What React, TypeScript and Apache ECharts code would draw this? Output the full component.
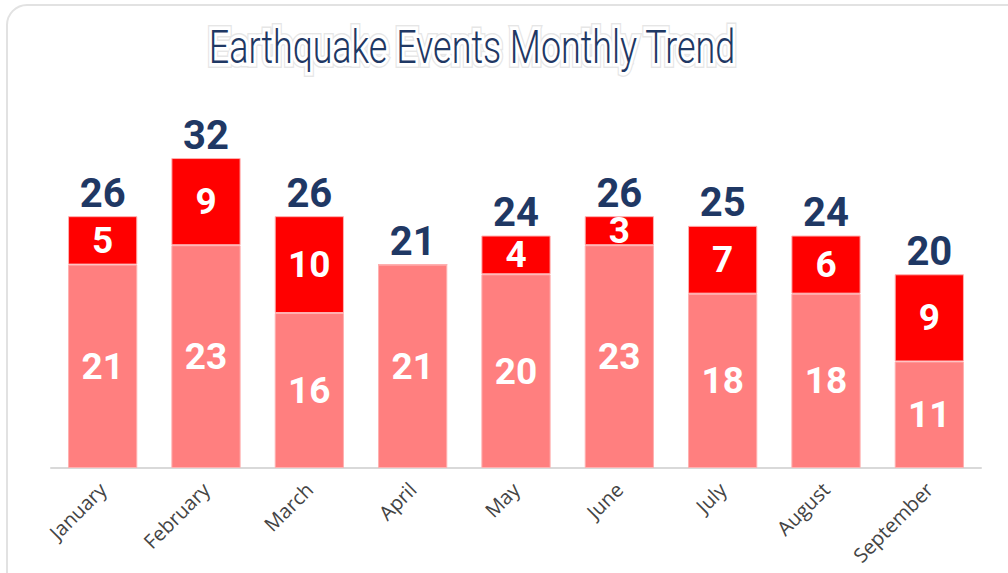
import React, { useEffect, useRef } from "react";
import * as echarts from "echarts";

const months = ["January", "February", "March", "April", "May", "June", "July", "August", "September"];
const baseEvents = [21, 23, 16, 21, 20, 23, 18, 18, 11];
const extraEvents = [5, 9, 10, 0, 4, 3, 7, 6, 9];
const totals = [26, 32, 26, 21, 24, 26, 25, 24, 20];
const titleText = "Earthquake Events Monthly Trend";

export default function App() {
  const ref = useRef<HTMLDivElement>(null);
  useEffect(() => {
    if (!ref.current) return;
    const chart = echarts.init(ref.current, undefined, { renderer: "svg" });
    const inside = {
      show: true,
      position: "inside" as const,
      color: "#ffffff",
      fontFamily: "Roboto",
      fontWeight: "bold" as const,
      fontSize: 37,
    };
    const titleBase = {
      text: titleText,
      font: "300 46px Roboto",
      textAlign: "center",
      textVerticalAlign: "middle",
    };
    chart.setOption({
      animation: false,
      backgroundColor: "#ffffff",
      graphic: [
        {
          type: "rect",
          z: -10,
          shape: { x: 7, y: 5, width: 1020, height: 620, r: 20 },
          style: { fill: "#ffffff", stroke: "#e2e2e2", lineWidth: 2 },
        },
        {
          type: "text",
          x: 472,
          y: 47,
          scaleX: 0.78,
          z: 9,
          style: { ...titleBase, fill: "#e6e6e6", stroke: "#e6e6e6", lineWidth: 10 },
        },
        {
          type: "text",
          x: 472,
          y: 47,
          scaleX: 0.78,
          z: 10,
          style: { ...titleBase, fill: "#ffffff", stroke: "#ffffff", lineWidth: 7 },
        },
        {
          type: "text",
          x: 472,
          y: 47,
          scaleX: 0.78,
          z: 11,
          style: { ...titleBase, fill: "#1f3864" },
        },
      ],
      grid: { left: 51, right: 27, top: 129, bottom: 105, containLabel: false },
      xAxis: {
        type: "category",
        data: months,
        axisLine: { show: true, lineStyle: { color: "#d9d9d9", width: 2 } },
        axisTick: { show: false },
        axisLabel: {
          rotate: 45,
          margin: 18,
          color: "#444444",
          fontFamily: "Open Sans",
          fontSize: 20,
          interval: 0,
        },
      },
      yAxis: {
        type: "value",
        min: 0,
        max: 35,
        show: false,
        splitLine: { show: false },
      },
      series: [
        {
          name: "Base",
          type: "bar",
          stack: "total",
          barWidth: "67%",
          data: baseEvents,
          itemStyle: { color: "#ff7f7f", borderColor: "#ffb0b0", borderWidth: 1 },
          label: inside,
        },
        {
          name: "Extra",
          type: "bar",
          stack: "total",
          barWidth: "67%",
          data: extraEvents,
          itemStyle: { color: "#ff0000", borderColor: "#ffb0b0", borderWidth: 1 },
          label: {
            ...inside,
            formatter: (p: any) => (p.value ? String(p.value) : ""),
          },
        },
        {
          name: "Total",
          type: "bar",
          barWidth: "67%",
          barGap: "-100%",
          data: totals,
          z: 1,
          itemStyle: { color: "rgba(0,0,0,0)" },
          label: {
            show: true,
            position: "top",
            distance: 3,
            color: "#1f3864",
            fontFamily: "Roboto",
            fontWeight: "bold",
            fontSize: 40,
          },
          silent: true,
        },
      ],
    });
    return () => chart.dispose();
  }, []);
  return (
    <div style={{ position: "absolute", left: 0, top: 0, width: 1008, height: 573 }}>
      <div ref={ref} style={{ width: 1008, height: 573 }} />
    </div>
  );
}
